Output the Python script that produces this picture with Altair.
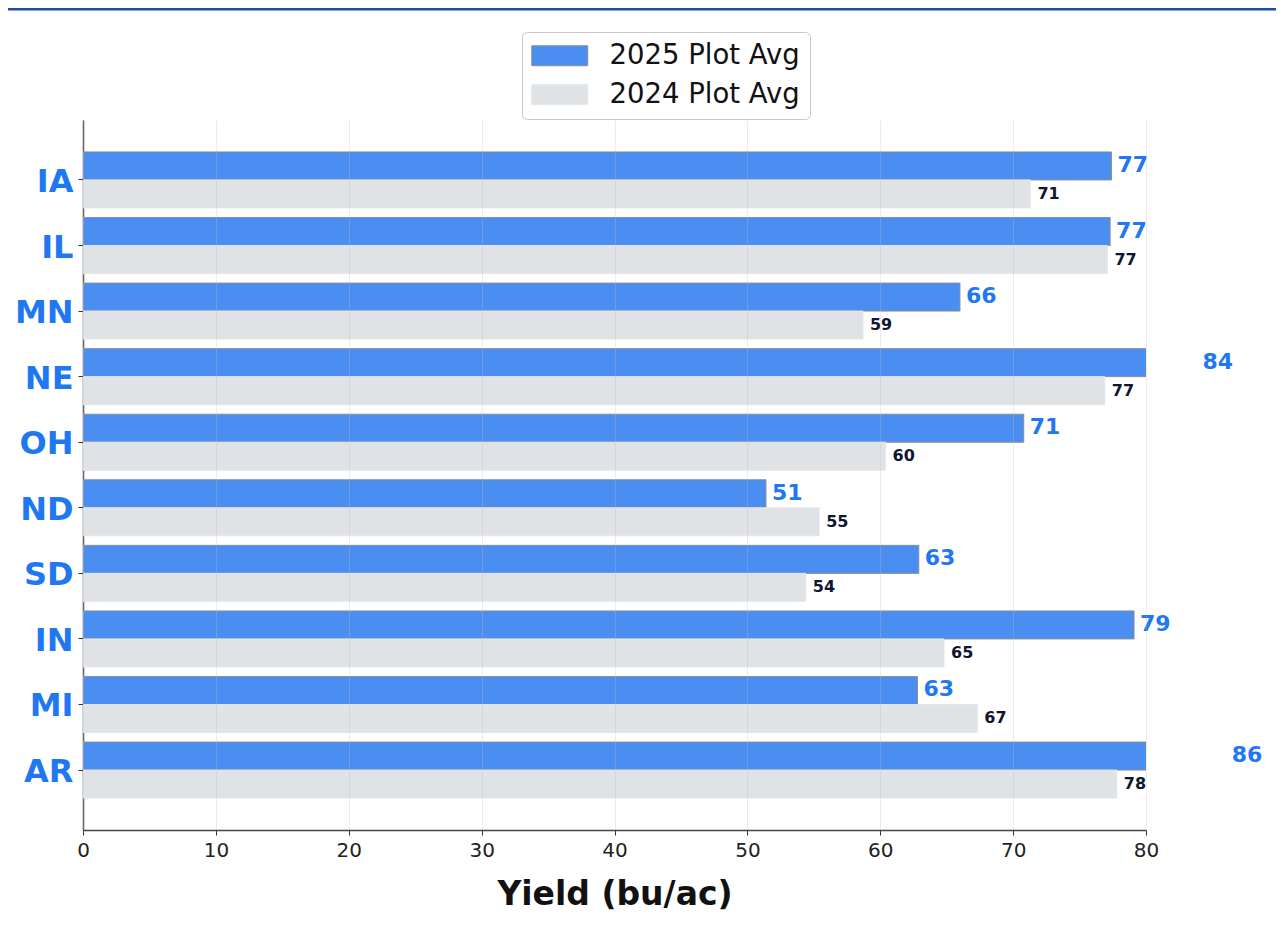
import altair as alt
import pandas as pd

states = ["IA", "IL", "MN", "NE", "OH", "ND", "SD", "IN", "MI", "AR"]
avg_2025 = [77.4, 77.3, 66.0, 83.8, 70.8, 51.4, 62.9, 79.1, 62.8, 86.0]
avg_2024 = [71.3, 77.1, 58.7, 76.9, 60.4, 55.4, 54.4, 64.8, 67.3, 77.8]
series = ["2025 Plot Avg", "2024 Plot Avg"]
x_ticks = [0, 10, 20, 30, 40, 50, 60, 70, 80]

rows = []
for s, a, b in zip(states, avg_2025, avg_2024):
    rows.append({"state": s, "series": series[0], "value": a})
    rows.append({"state": s, "series": series[1], "value": b})
df = pd.DataFrame(rows)

FONT = "DejaVu Sans"
BLUE = "#4a8ef2"
GRAY = "#e0e3e6"
LABEL_BLUE = "#1f77f2"

y_enc = alt.Y(
    "state:N",
    sort=states,
    scale=alt.Scale(paddingInner=0.146, paddingOuter=0.487),
    axis=alt.Axis(
        title=None,
        labelFontSize=32,
        labelFontWeight="bold",
        labelColor=LABEL_BLUE,
        labelFont=FONT,
        labelPadding=5,
        labelOffset=2,
        labelBaseline="middle",
        tickSize=5,
        tickColor="#333333",
        domainColor="#444444",
        domainWidth=1.5,
        grid=False,
    ),
)
yoff_enc = alt.YOffset("series:N", sort=series,
                       scale=alt.Scale(paddingInner=0, paddingOuter=0))
x_enc = alt.X(
    "value:Q",
    scale=alt.Scale(domain=[0, 80], nice=False, zero=True),
    axis=alt.Axis(
        title="Yield (bu/ac)",
        values=x_ticks,
        format="d",
        titleFontSize=33,
        titleFontWeight="bold",
        titleFont=FONT,
        titleColor="#111111",
        titlePadding=18,
        labelFontSize=20,
        labelFont=FONT,
        labelColor="#222222",
        labelPadding=5,
        labelFlush=False,
        tickSize=5,
        tickColor="#333333",
        domainColor="#444444",
        domainWidth=1.5,
        grid=True,
        gridColor="#c9b9c2",
        gridOpacity=0.3,
        gridWidth=1,
        zindex=1,
    ),
)

legend = alt.Legend(
    title=None,
    orient="none",
    legendX=439,
    legendY=-88,
    direction="vertical",
    labelFontSize=27.5,
    labelFont=FONT,
    labelColor="#111111",
    labelLimit=400,
    symbolType="M-2.8,-1H2.8V1H-2.8Z",
    symbolSize=400,
    symbolOffset=14,
    symbolStrokeWidth=1,
    labelOffset=36,
    rowPadding=10,
    padding=10,
    fillColor="#ffffff",
    strokeColor="#c8c8c8",
    cornerRadius=5,
)

base = alt.Chart(df)

bars = base.mark_bar(clip=True, strokeWidth=1).encode(
    y=y_enc,
    yOffset=yoff_enc,
    x=x_enc,
    fill=alt.Fill(
        "series:N",
        sort=series,
        scale=alt.Scale(domain=series, range=[BLUE, GRAY]),
        legend=legend,
    ),
    stroke=alt.Stroke(
        "series:N",
        sort=series,
        scale=alt.Scale(domain=series, range=["#8a8f98", "#e4e6e8"]),
        legend=legend,
    ),
)

text_2025 = base.transform_filter(
    alt.datum.series == series[0]
).mark_text(
    align="left", baseline="middle", dx=6, dy=-1,
    fontSize=22, fontWeight="bold", font=FONT, color=LABEL_BLUE,
).encode(
    y=alt.Y("state:N", sort=states),
    yOffset=alt.YOffset("series:N", sort=series),
    x=alt.X("value:Q"),
    text=alt.Text("value:Q", format=".0f"),
)

text_2024 = base.transform_filter(
    alt.datum.series == series[1]
).mark_text(
    align="left", baseline="middle", dx=7,
    fontSize=16, fontWeight="bold", font=FONT, color="#0e1630",
).encode(
    y=alt.Y("state:N", sort=states),
    yOffset=alt.YOffset("series:N", sort=series),
    x=alt.X("value:Q"),
    text=alt.Text("value:Q", format=".0f"),
)

frame_line = alt.Chart(pd.DataFrame({"k": [0]})).mark_rule(
    color="#1f4fa0", strokeWidth=3
).encode(
    x=alt.value(-75), x2=alt.value(1193), y=alt.value(-111)
)

chart = alt.layer(bars, text_2025, text_2024, frame_line).properties(
    width=1063,
    height=710,
    padding={"left": 75, "right": 130, "top": 112, "bottom": 87},
    autosize=alt.AutoSizeParams(type="none"),
    background="#ffffff",
).configure_view(stroke=None)

chart.save("out.html", embed_options={"renderer": "svg", "actions": False})
